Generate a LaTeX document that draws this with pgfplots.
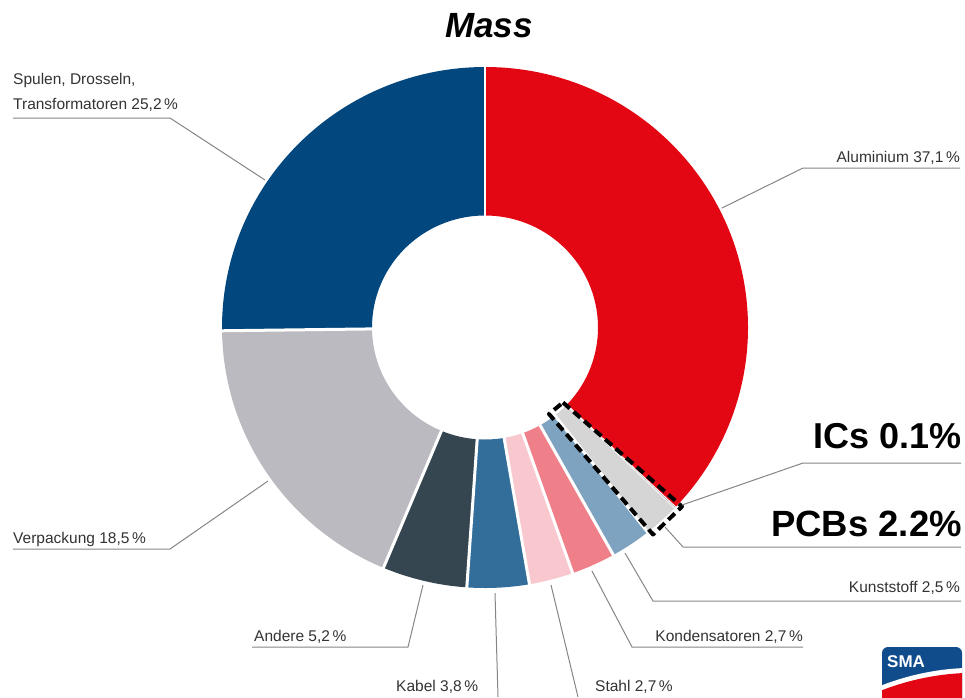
\documentclass[border=0pt]{standalone}
\usepackage{pgfplots}
\pgfplotsset{compat=1.18}
\usepackage{pgfplotstable}
\usepackage{fontspec}
\setmainfont{Liberation Sans}
\usetikzlibrary{calc}

\definecolor{alu}{HTML}{E30613}
\definecolor{ics}{HTML}{A3A3A3}
\definecolor{pcb}{HTML}{D5D5D5}
\definecolor{kunst}{HTML}{7DA3C1}
\definecolor{kond}{HTML}{EF7F88}
\definecolor{stahl}{HTML}{F8C8CE}
\definecolor{kabel}{HTML}{336E9B}
\definecolor{andere}{HTML}{354651}
\definecolor{verp}{HTML}{BBBAC0}
\definecolor{spulen}{HTML}{02477E}
\definecolor{lbl}{HTML}{333333}
\definecolor{lead}{HTML}{858585}
\definecolor{smablue}{HTML}{104C8C}

% share of mass in %, clockwise from the top
\pgfplotstableread{
share color gap
37.1 alu 2.5
0.1 ics 0.8
2.2 pcb 0.8
2.5 kunst 3
2.7 kond 3
2.7 stahl 3
3.8 kabel 3
5.2 andere 3
18.5 verp 3
25.2 spulen 3
}\masstable

\newcommand\lab[1]{\fontsize{15.5}{18}\selectfont\color{lbl}#1}

\begin{document}
\begin{tikzpicture}
\begin{axis}[scale only axis, width=965pt, height=697pt,
  xmin=0, xmax=965, ymin=0, ymax=697, y dir=reverse,
  hide axis, clip=false]
\pgfplotsextra{
  \coordinate (C) at (axis cs:485,327.5);
  \coordinate (BL) at (axis cs:0,697);
  \coordinate (TR) at (axis cs:965,0);
  % slices
  \def\sA{90}
  \pgfplotsforeachungrouped \i in {0,...,9}{
    \pgfplotstablegetelem{\i}{share}\of\masstable \let\sV\pgfplotsretval
    \pgfplotstablegetelem{\i}{color}\of\masstable \let\sC\pgfplotsretval
    \pgfmathsetmacro\sB{\sA-3.6*\sV}
    \fill[\sC] ($(C)+(\sA:263pt and 260.5pt)$)
      arc[start angle=\sA, end angle=\sB, x radius=263pt, y radius=260.5pt]
      -- ($(C)+(\sB:113pt and 112pt)$)
      arc[start angle=\sB, end angle=\sA, x radius=113pt, y radius=112pt] -- cycle;
    \global\let\sA\sB
  }
  % white gaps between slices
  \def\sA{90}
  \pgfplotsforeachungrouped \i in {0,...,9}{
    \pgfplotstablegetelem{\i}{share}\of\masstable \let\sV\pgfplotsretval
    \pgfplotstablegetelem{\i}{gap}\of\masstable \let\sG\pgfplotsretval
    \draw[white, line width=\sG pt] ($(C)+(\sA:108pt and 107pt)$) -- ($(C)+(\sA:268pt and 265pt)$);
    \pgfmathsetmacro\sB{\sA-3.6*\sV}
    \global\let\sA\sB
  }
  % dashed frame around the PCB slice
  \draw[black, line width=4pt, dash pattern=on 9pt off 5pt, line join=round]
    (axis cs:563,402.5) -- (axis cs:682,506.5) -- (axis cs:653,534.5) -- (axis cs:549,414) -- cycle;
  % leader lines
  \begin{scope}[lead, line width=1pt]
    \draw (axis cs:722,208) -- (axis cs:803,168) -- (axis cs:960,168);
    \draw (axis cs:265,180) -- (axis cs:170,118) -- (axis cs:13,118);
    \draw (axis cs:268,481) -- (axis cs:170,549) -- (axis cs:13,549);
    \draw (axis cs:423,585) -- (axis cs:408,647) -- (axis cs:252,647);
    \draw (axis cs:495,593) -- (axis cs:498,697);
    \draw (axis cs:551,585) -- (axis cs:578,697);
    \draw (axis cs:592,571) -- (axis cs:632,647) -- (axis cs:803,647);
    \draw (axis cs:625,553) -- (axis cs:653,601) -- (axis cs:961,601);
    \draw (axis cs:665,527) -- (axis cs:683,547) -- (axis cs:961,547);
    \draw (axis cs:682,505) -- (axis cs:803,463) -- (axis cs:961,463);
  \end{scope}
  % labels
  \node[anchor=base east, inner sep=0pt] at (axis cs:960,162) {\lab{Aluminium 37,1\,\%}};
  \node[anchor=base west, inner sep=0pt] at (axis cs:13,84) {\lab{Spulen, Drosseln,}};
  \node[anchor=base west, inner sep=0pt] at (axis cs:13,109) {\lab{Transformatoren 25,2\,\%}};
  \node[anchor=base west, inner sep=0pt] at (axis cs:13,543) {\lab{Verpackung 18,5\,\%}};
  \node[anchor=base west, inner sep=0pt] at (axis cs:254,641) {\lab{Andere 5,2\,\%}};
  \node[anchor=base west, inner sep=0pt] at (axis cs:396,691) {\lab{Kabel 3,8\,\%}};
  \node[anchor=base west, inner sep=0pt] at (axis cs:595,691) {\lab{Stahl 2,7\,\%}};
  \node[anchor=base east, inner sep=0pt] at (axis cs:803,641) {\lab{Kondensatoren 2,7\,\%}};
  \node[anchor=base east, inner sep=0pt] at (axis cs:960,592) {\lab{Kunststoff 2,5\,\%}};
  \node[anchor=base east, inner sep=0pt] at (axis cs:962,448) {\fontsize{36}{40}\selectfont\bfseries ICs 0.1\%};
  \node[anchor=base east, inner sep=0pt] at (axis cs:962,536) {\fontsize{36.5}{40}\selectfont\bfseries PCBs 2.2\%};
  \node[anchor=base, inner sep=0pt] at (axis cs:489,37) {\fontsize{35}{40}\selectfont\bfseries\itshape Mass};
  % SMA logo
  \begin{scope}
    \clip[rounded corners=6pt] (axis cs:882,647) rectangle (axis cs:962,710);
    \fill[smablue] (axis cs:880,645) rectangle (axis cs:965,710);
    \fill[white] (axis cs:880,686) .. controls (axis cs:905,676) and (axis cs:935,669) .. (axis cs:965,668) -- (axis cs:965,710) -- (axis cs:880,710) -- cycle;
    \fill[alu] (axis cs:880,691) .. controls (axis cs:905,681) and (axis cs:935,674) .. (axis cs:965,673) -- (axis cs:965,710) -- (axis cs:880,710) -- cycle;
  \end{scope}
  \node[anchor=base west, inner sep=0pt, white] at (axis cs:887,667) {\fontsize{17}{20}\selectfont\bfseries SMA};
}
\end{axis}
\pgfresetboundingbox
\useasboundingbox (BL) rectangle (TR);
\end{tikzpicture}
\end{document}
